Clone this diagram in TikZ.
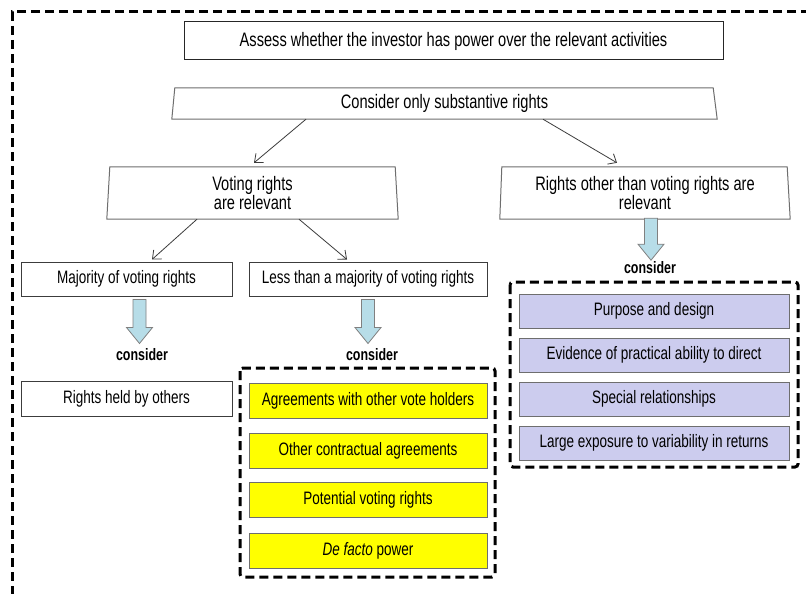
\documentclass[tikz,border=0pt]{standalone}
\usepackage{fontspec}
\setmainfont{Liberation Sans}[FakeStretch=0.75]
\usetikzlibrary{arrows.meta,calc}

\definecolor{boxline}{RGB}{60,60,60}
\definecolor{slantline}{RGB}{110,110,110}
\definecolor{hiyellow}{RGB}{255,255,0}
\definecolor{lavender}{RGB}{204,204,238}
\definecolor{paleaqua}{RGB}{183,221,232}
\definecolor{arrowline}{RGB}{60,60,60}
\definecolor{fillline}{RGB}{110,110,110}

\newcommand\uptext{\fontsize{19.5}{19}\selectfont}
\newcommand\lowtext{\fontsize{18}{18}\selectfont}
\newcommand\considertext{\fontsize{16.6}{17}\selectfont\bfseries}

% block arrow pointing down: #1 top centre of the shaft, #2 total length
\newcommand\blockarrow[2]{%
  \draw[blockarr] #1 ++(-6.5,0) -- ++(0,{#2-16}) -- ++(-6.5,0) -- ++(13,16)
    -- ++(13,-16) -- ++(-6.5,0) -- ++(0,{16-#2}) -- cycle;}

\tikzset{
  plainbox/.style={draw=boxline, line width=1pt, inner sep=0pt, align=center, font=\lowtext},
  slantlabel/.style={inner sep=0pt, align=center, font=\uptext},
  slantoutline/.style={draw=slantline, line width=1pt},
  yellowbox/.style={plainbox, fill=hiyellow, draw=fillline, minimum width=238pt, minimum height=35pt},
  purplebox/.style={plainbox, fill=lavender, draw=fillline, minimum width=270pt, minimum height=34pt},
  considerlabel/.style={inner sep=0pt, font=\considertext},
  thinarrow/.style={draw=arrowline, line width=0.8pt, -{Straight Barb[length=7pt,width=12pt]}},
  blockarr/.style={fill=paleaqua, draw=gray, line width=0.8pt},
  outerframe/.style={line width=3pt, dash pattern=on 9pt off 5pt},
  groupframe/.style={line width=3pt, dash pattern=on 9pt off 5pt, rounded corners=3pt},
}

\begin{document}
\begin{tikzpicture}[x=1pt,y=-1pt]
\useasboundingbox (0,0) rectangle (806,594);
\fill[white] (0,0) rectangle (806,594);

% outer dashed frame
\draw[outerframe] (810,12) -- (12,12) -- (12,598);

% top question
\node[plainbox, draw=black!85, font=\uptext, minimum width=539pt, minimum height=38pt]
  (assess) at (453.5,41) {Assess whether the investor has power over the relevant activities};

% slanted boxes
\node[slantlabel, minimum width=545pt, minimum height=31pt] (cons) at (444.5,103.5)
  {Consider only substantive rights};
\draw[slantoutline] ([xshift=3pt]cons.north west) -- ([xshift=-4pt]cons.north east)
  -- (cons.south east) -- (cons.south west) -- cycle;

\node[slantlabel, minimum width=291pt, minimum height=52pt] (vote) at (252.5,193)
  {Voting rights\\are relevant};
\draw[slantoutline] ([xshift=3pt]vote.north west) -- ([xshift=-3pt]vote.north east)
  -- (vote.south east) -- (vote.south west) -- cycle;

\node[slantlabel, minimum width=290pt, minimum height=52pt] (other) at (645,193)
  {Rights other than voting rights are\\relevant};
\draw[slantoutline] ([xshift=2pt]other.north west) -- ([xshift=-3pt]other.north east)
  -- (other.south east) -- (other.south west) -- cycle;

% second level
\node[plainbox, minimum width=211pt, minimum height=34pt] (maj) at (126.5,279)
  {Majority of voting rights};
\node[plainbox, minimum width=238pt, minimum height=34pt] (less) at (368,279)
  {Less than a majority of voting rights};

% thin arrows
\draw[thinarrow] ([xshift=-138.5pt]cons.south) -- ([xshift=1.5pt,yshift=4pt]vote.north);
\draw[thinarrow] ([xshift=98.5pt]cons.south) -- ([xshift=-28pt,yshift=4pt]other.north);
\draw[thinarrow] ([xshift=-55.5pt]vote.south) -- ([xshift=25.5pt,yshift=2pt]maj.north);
\draw[thinarrow] ([xshift=46.5pt]vote.south) -- ([xshift=-21pt,yshift=2pt]less.north);

% block arrows and their labels
\blockarrow{([xshift=13pt,yshift=-3pt]maj.south)}{44}
\blockarrow{([yshift=-3pt]less.south)}{44}
\blockarrow{([xshift=6pt,yshift=1pt]other.south)}{42}
\node[considerlabel] (consA) at (142,355) {consider};
\node[considerlabel] (consB) at (372,355) {consider};
\node[considerlabel] (consC) at (650,268) {consider};

% majority branch
\node[plainbox, minimum width=211pt, minimum height=35pt] (held) at (126.5,398.5)
  {Rights held by others};

% less-than-majority branch
\draw[groupframe] (240,368) rectangle (495,577);
\node[yellowbox] (agree) at (368,401)   {Agreements with other vote holders};
\node[yellowbox] (contr) at (368,450.5) {Other contractual agreements};
\node[yellowbox] (poten) at (368,500)   {Potential voting rights};
\node[yellowbox] (facto) at (368,550.5) {{\itshape De facto} power};

% other rights branch
\draw[groupframe] (510,282) rectangle (798,467);
\node[purplebox] (purp) at (654,311) {Purpose and design};
\node[purplebox] (evid) at (654,355) {Evidence of practical ability to direct};
\node[purplebox] (spec) at (654,399) {Special relationships};
\node[purplebox] (expo) at (654,443) {Large exposure to variability in returns};
\end{tikzpicture}
\end{document}
